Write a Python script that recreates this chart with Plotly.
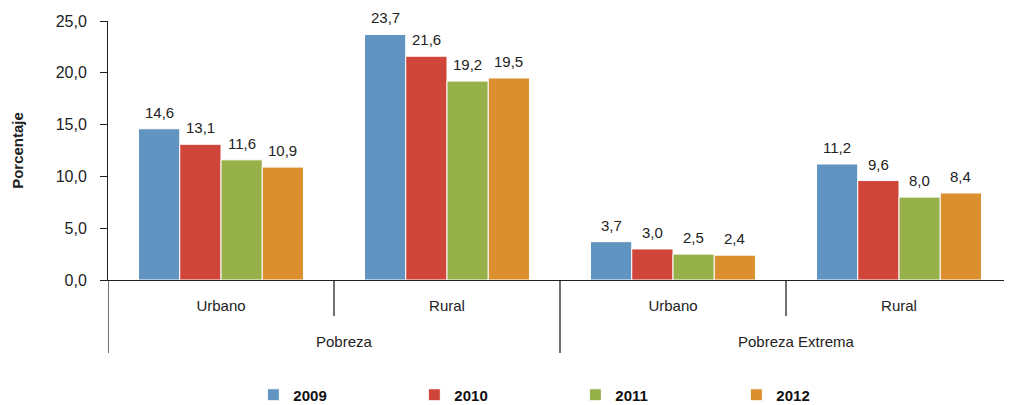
import plotly.graph_objects as go

groups = ["Pobreza", "Pobreza", "Pobreza Extrema", "Pobreza Extrema"]
areas = ["Urbano", "Rural", "Urbano", "Rural"]
years = ["2009", "2010", "2011", "2012"]
v2009 = [14.6, 23.7, 3.7, 11.2]
v2010 = [13.1, 21.6, 3.0, 9.6]
v2011 = [11.6, 19.2, 2.5, 8.0]
v2012 = [10.9, 19.5, 2.4, 8.4]
series = [v2009, v2010, v2011, v2012]
colors = ["#6294C2", "#D04539", "#96B04A", "#DC8F2E"]

FONT = "Liberation Sans, Arial"
# page body has an 8px margin, so the figure is sized to fit inside the window
W, H = 1004, 397
ML, MR, MT, MB = 100, 0, 13, 125
PLOT_H = H - MT - MB
BARGAP = 0.27

cats = [g + "|" + a for g, a in zip(groups, areas)]
n = len(cats)
k = len(series)

fig = go.Figure()
for name, vals, col in zip(years, series, colors):
    fig.add_trace(go.Bar(
        name=name, x=cats, y=vals,
        marker=dict(color=col, line=dict(color="white", width=1)),
        cliponaxis=False,
    ))

annotations = []
# value labels above each bar (positioned on the library's category scale)
bw = (1 - BARGAP) / k
for j, vals in enumerate(series):
    for i, v in enumerate(vals):
        annotations.append(dict(
            text=f"{v:.1f}".replace(".", ","), x=i - (1 - BARGAP) / 2 + bw * (j + 0.5),
            xref="x", y=v, yref="y", yanchor="bottom", yshift=6, showarrow=False,
            font=dict(size=15, family=FONT, color="#222")))

# boundaries of inner categories (short) and outer groups (long)
shapes = []
for i in range(n + 1):
    b = i - 0.5
    is_group_edge = i == 0 or i == n or groups[i] != groups[i - 1]
    depth = 73 if is_group_edge else 36
    shapes.append(dict(type="line", xref="x", yref="paper", x0=b, x1=b,
                       y0=0, y1=-depth / PLOT_H, line=dict(color="#111", width=1.2)))

seen = []
for g in groups:
    if g not in seen:
        seen.append(g)
for g in seen:
    idx = [i for i, gg in enumerate(groups) if gg == g]
    center = (idx[0] + idx[-1]) / 2
    annotations.append(dict(text=g, x=center, xref="x", xshift=10, y=-61 / PLOT_H, yref="paper",
                            showarrow=False, yanchor="middle",
                            font=dict(size=15, family=FONT, color="#222")))

fig.update_layout(
    width=W, height=H,
    margin=dict(l=ML, r=MR, t=MT, b=MB, autoexpand=False),
    plot_bgcolor="white", paper_bgcolor="white",
    separators=",.",
    barmode="group", bargap=BARGAP, bargroupgap=0,
    font=dict(family=FONT, size=15, color="#222"),
    showlegend=True,
    legend=dict(orientation="h", x=0.517, xanchor="center", y=-0.444, yanchor="middle",
                font=dict(size=15, family=FONT, color="#111", weight="bold"),
                entrywidth=116, entrywidthmode="pixels"),
    shapes=shapes, annotations=annotations,
    xaxis=dict(type="category", categoryorder="array", categoryarray=cats,
               tickvals=cats, ticktext=areas, range=[-0.5, n - 0.5],
               showline=True, linecolor="#222", linewidth=1,
               ticks="", ticklabelstandoff=12, automargin=False,
               tickfont=dict(size=15)),
    yaxis=dict(range=[0, 25], dtick=5, tickformat=".1f", showgrid=False,
               showline=True, linecolor="#222", linewidth=1, ticks="outside",
               ticklen=7, tickcolor="#222", zeroline=False, automargin=False,
               ticklabelstandoff=10, tickfont=dict(size=16),
               title=dict(text="<b>Porcentaje</b>", font=dict(size=15, family=FONT), standoff=28)),
)
fig.write_html("out.html")
